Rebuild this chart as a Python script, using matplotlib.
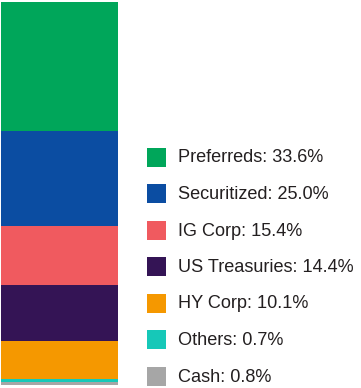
import matplotlib
matplotlib.use("Agg")
import matplotlib.pyplot as plt
from matplotlib.patches import Rectangle

# allocation data, top of the bar first
labels = ["Preferreds", "Securitized", "IG Corp", "US Treasuries", "HY Corp", "Others", "Cash"]
values = [33.6, 25.0, 15.4, 14.4, 10.1, 0.7, 0.8]
colors = ["#00a65a", "#0b4da2", "#f05a5f", "#341455", "#f59800", "#16c8b8", "#a6a6a6"]

plt.rcParams['font.family'] = ['Liberation Sans', 'DejaVu Sans']

W, H = 361, 388
fig = plt.figure(figsize=(W / 100, H / 100), dpi=100)

# stacked bar (bottom segment first)
ax = fig.add_axes([1 / W, (H - 385) / H, 117 / W, 383 / H])
bottom = 0.0
for lab, v, c in reversed(list(zip(labels, values, colors))):
    ax.bar(0, v, width=1.0, bottom=bottom, color=c, edgecolor="none")
    bottom += v
ax.set_xlim(-0.5, 0.5)
ax.set_ylim(0, 100)
ax.axis("off")

# legend in pixel coordinates
lg = fig.add_axes([0, 0, 1, 1])
lg.set_xlim(0, W)
lg.set_ylim(H, 0)
lg.axis("off")
y0, dy, sq = 157, 36.5, 19
for i, (lab, v, c) in enumerate(zip(labels, values, colors)):
    yc = y0 + i * dy
    lg.add_patch(Rectangle((147, yc - sq / 2), sq, sq, facecolor=c, edgecolor="none"))
    lg.text(178, yc + 1, f"{lab}: {v:.1f}%", fontsize=13.1, color="#231f20",
            va="center", ha="left")

fig.savefig("out.png", dpi=100)
